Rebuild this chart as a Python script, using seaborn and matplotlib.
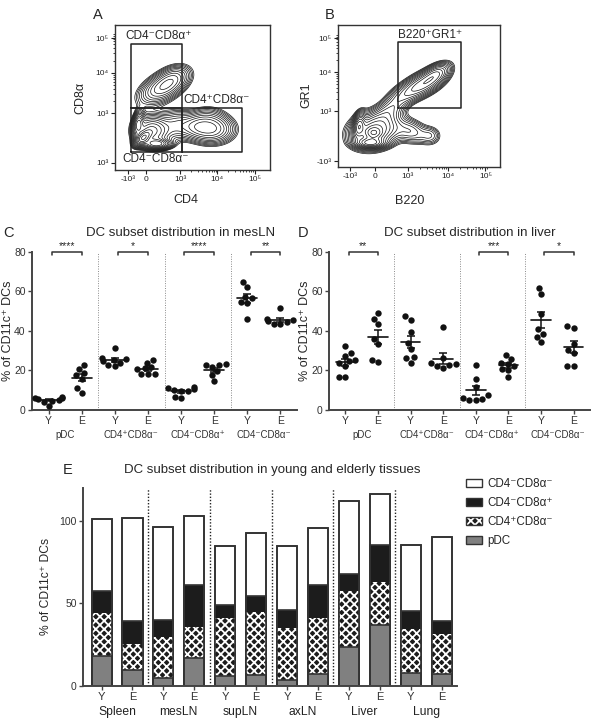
import numpy as np
import pandas as pd
import matplotlib
matplotlib.use("Agg")
import matplotlib.pyplot as plt
from matplotlib.patches import Patch
import seaborn as sns

# ── A / B: flow populations (axis-fraction units) ───────────────────────────
# centre x, centre y, spread x, spread y, tilt (corr), weight
a_cx = [0.31, 0.38, 0.24, 0.15, 0.18, 0.27, 0.40, 0.625, 0.52, 0.60]
a_cy = [0.57, 0.64, 0.27, 0.32, 0.22, 0.18, 0.31, 0.28, 0.30, 0.36]
a_sx = [0.085, 0.06, 0.065, 0.02, 0.03, 0.05, 0.06, 0.08, 0.06, 0.07]
a_sy = [0.065, 0.05, 0.06, 0.05, 0.03, 0.02, 0.06, 0.055, 0.05, 0.05]
a_rho = [0.5, 0.3, 0.0, 0.3, 0.5, 0.0, 0.0, 0.0, 0.0, 0.0]
a_w = [1.3, 0.3, 1.5, 0.3, 0.45, 0.45, 0.45, 1.2, 0.45, 0.25]

b_cx = [0.23, 0.22, 0.13, 0.20, 0.45, 0.57, 0.32, 0.52, 0.61, 0.40]
b_cy = [0.26, 0.24, 0.29, 0.17, 0.25, 0.22, 0.40, 0.58, 0.66, 0.50]
b_sx = [0.085, 0.03, 0.02, 0.05, 0.06, 0.04, 0.06, 0.08, 0.05, 0.06]
b_sy = [0.07, 0.025, 0.05, 0.02, 0.05, 0.04, 0.06, 0.06, 0.045, 0.05]
b_rho = [0.2, 0.0, 0.3, 0.0, -0.2, 0.0, 0.5, 0.6, 0.5, 0.4]
b_w = [2.2, 0.2, 0.3, 0.4, 0.3, 0.1, 0.35, 1.0, 0.3, 0.2]

# gates: (x0, y0, x1, y1) in axis fractions
a_gates = [(0.10, 0.428, 0.434, 0.869),
           (0.10, 0.126, 0.434, 0.428),
           (0.434, 0.126, 0.817, 0.428)]
a_gate_labels = [(0.065, 0.925, "CD4⁻CD8α⁺"),
                 (0.44, 0.483, "CD4⁺CD8α⁻"),
                 (0.05, 0.076, "CD4⁻CD8α⁻")]
b_gates = [(0.37, 0.415, 0.76, 0.88)]
b_gate_labels = [(0.37, 0.93, "B220⁺GR1⁺")]

flow_xtick_labels = ["-10³", "0", "10³", "10⁴", "10⁵"]
a_xticks = [0.085, 0.20, 0.42, 0.66, 0.90]
a_yticks = [0.05, 0.39, 0.67, 0.91]
a_ytick_labels = ["10³", "10³", "10⁴", "10⁵"]
b_xticks = [0.074, 0.23, 0.43, 0.68, 0.91]
b_yticks = [0.042, 0.394, 0.669, 0.908]
b_ytick_labels = ["-10³", "10³", "10⁴", "10⁵"]

# ── C / D: % of CD11c+ DCs per mouse ─────────────────────────────────────────
subset_labels = ["pDC", "CD4⁺CD8α⁻", "CD4⁻CD8α⁺", "CD4⁻CD8α⁻"]
ages = ["Y", "E"]

mesln_pdc_y = [6.3, 5.6, 6.0, 5.1, 4.8, 4.2, 2.0, 6.5]
mesln_pdc_e = [22.5, 20.5, 18.5, 17.5, 15.5, 11.0, 8.8]
mesln_cd4_y = [31.5, 26.5, 25.8, 25.2, 24.8, 24.0, 22.5, 22.0]
mesln_cd4_e = [25.3, 24.0, 21.5, 20.5, 18.2, 18.2, 18.2, 21.0]
mesln_cd8_y = [11.5, 11.0, 10.5, 10.0, 9.8, 9.5, 6.8, 6.0]
mesln_cd8_e = [23.3, 22.5, 22.8, 21.5, 19.5, 17.5, 14.5]
mesln_dn_y = [64.8, 62.3, 57.0, 56.5, 54.5, 54.0, 45.8]
mesln_dn_e = [51.5, 46.0, 45.5, 45.0, 44.5, 43.5, 43.3]
mesln_stars = ["****", "*", "****", "**"]

liver_pdc_y = [32.3, 28.7, 27.5, 25.5, 24.8, 23.5, 22.0, 16.5, 16.5]
liver_pdc_e = [49.0, 46.0, 43.5, 36.0, 33.5, 25.5, 24.5]
liver_cd4_y = [47.3, 45.5, 39.3, 34.0, 31.0, 26.8, 26.5, 24.0]
liver_cd4_e = [41.7, 26.5, 24.0, 23.0, 22.5, 22.0, 21.2]
liver_cd8_y = [22.9, 15.6, 11.5, 7.6, 6.0, 5.5, 5.0, 5.0]
liver_cd8_e = [27.8, 26.0, 24.0, 23.3, 22.0, 20.7, 20.0, 16.7]
liver_dn_y = [61.7, 58.7, 48.5, 40.7, 38.5, 37.0, 34.5]
liver_dn_e = [42.3, 41.5, 33.5, 30.5, 29.0, 22.3, 22.3]
liver_stars = ["**", "", "***", "*"]

# ── E: mean subset composition per tissue (Y, E per tissue) ─────────────────
tissues = ["Spleen", "mesLN", "supLN", "axLN", "Liver", "Lung"]
pdc_pct = [18.0, 9.5, 4.9, 16.8, 6.1, 6.5, 3.6, 6.9, 23.3, 36.6, 7.5, 6.9]
cd4_pct = [26.3, 15.6, 24.9, 19.0, 34.8, 38.4, 31.4, 34.2, 34.2, 26.2, 26.9, 24.5]
cd8_pct = [13.0, 14.0, 10.3, 25.5, 7.9, 9.8, 11.0, 20.2, 10.1, 22.4, 11.1, 7.7]
dn_pct = [43.7, 62.9, 56.3, 41.9, 36.0, 37.8, 38.8, 34.2, 44.7, 31.2, 40.1, 51.0]

W, H = 600, 727
sns.set_style("ticks")
plt.rcParams["font.family"] = ["Liberation Sans", "DejaVu Sans"]
plt.rcParams["hatch.linewidth"] = 1.3
fig = plt.figure(figsize=(W / 100, H / 100), dpi=100)
AX_COL = "#444444"


def px_axes(l, t, r, b):
    return fig.add_axes([l / W, 1 - b / H, (r - l) / W, (b - t) / H])


def fig_text(x, y, s, **kw):
    fig.text(x / W, 1 - y / H, s, **kw)


def flow_density(cx, cy, sx, sy, rho, w, n=300):
    g = np.linspace(0, 1, n)
    gx, gy = np.meshgrid(g, g)
    z = np.zeros_like(gx)
    for mx, my, vx, vy, r, wt in zip(cx, cy, sx, sy, rho, w):
        u, v = (gx - mx) / vx, (gy - my) / vy
        q = (u ** 2 - 2 * r * u * v + v ** 2) / (1 - r ** 2)
        z += wt / (vx * vy * np.sqrt(1 - r ** 2)) * np.exp(-0.5 * q)
    return gx, gy, z


def flow_panel(ax, pops, gates, gate_labels, xticks, yticks, ylabels):
    gx, gy, z = flow_density(*pops)
    levels = z.max() * np.geomspace(0.035, 0.92, 15)
    ax.contour(gx, gy, z, levels=levels, colors="#111111", linewidths=0.5)
    for x0, y0, x1, y1 in gates:
        ax.plot([x0, x1, x1, x0, x0], [y0, y0, y1, y1, y0], color="#222222", lw=1.1)
    for x, y, s in gate_labels:
        ax.text(x, y, s, fontsize=8.5, ha="left", va="center")
    ax.set_xlim(0, 1)
    ax.set_ylim(0, 1)
    ax.set_xticks(xticks, flow_xtick_labels, fontsize=6)
    ax.set_yticks(yticks, ylabels, fontsize=6)
    # log-decade minor ticks
    dx = xticks[3] - xticks[2]
    dy = yticks[2] - yticks[1]
    mx = [xticks[2] + dx * k + dx * np.log10(m) for k in range(2) for m in range(2, 10)]
    my = [yticks[1] + dy * k + dy * np.log10(m) for k in range(2) for m in range(2, 10)]
    ax.set_xticks(mx, minor=True)
    ax.set_yticks(my, minor=True)
    ax.tick_params(which="major", length=3, width=0.8, pad=1.5, colors="#222222")
    ax.tick_params(which="minor", length=1.5, width=0.6, colors="#222222")
    for sp in ax.spines.values():
        sp.set_color("#333333")
        sp.set_linewidth(1.0)


axA = px_axes(115, 25, 270, 170)
flow_panel(axA, (a_cx, a_cy, a_sx, a_sy, a_rho, a_w), a_gates, a_gate_labels,
           a_xticks, a_yticks, a_ytick_labels)
axB = px_axes(338, 25, 500, 167)
flow_panel(axB, (b_cx, b_cy, b_sx, b_sy, b_rho, b_w), b_gates, b_gate_labels,
           b_xticks, b_yticks, b_ytick_labels)

fig_text(186, 200, "CD4", fontsize=9, ha="center", va="center")
fig_text(80, 98, "CD8α", fontsize=9, ha="center", va="center", rotation=90)
fig_text(410, 201, "B220", fontsize=9, ha="center", va="center")
fig_text(306, 95, "GR1", fontsize=9, ha="center", va="center", rotation=90)


def style_axis(ax):
    sns.despine(ax=ax)
    for side in ("left", "bottom"):
        ax.spines[side].set_color(AX_COL)
        ax.spines[side].set_linewidth(1.4)
    ax.tick_params(length=3, width=1.0, color=AX_COL, labelcolor="#333333", pad=1.5)


def dot_panel(ax, groups, stars):
    rows, order = [], []
    for name, y_vals, e_vals in groups:
        for age, vals in zip(ages, (y_vals, e_vals)):
            key = f"{name} {age}"
            order.append(key)
            rows += [(key, v) for v in vals]
    df = pd.DataFrame(rows, columns=["grp", "pct"])
    sns.swarmplot(data=df, x="grp", y="pct", order=order, color="#111111",
                  size=4.6, ax=ax, zorder=3)
    for k, key in enumerate(order):
        v = df.loc[df.grp == key, "pct"].to_numpy()
        m, se = v.mean(), v.std(ddof=1) / np.sqrt(len(v))
        ax.plot([k - 0.3, k + 0.3], [m, m], color="#111111", lw=1.2, zorder=4)
        ax.errorbar(k, m, yerr=se, color="#111111", lw=1.1, capsize=3,
                    capthick=1.1, zorder=4)
    for i, s in enumerate(stars):
        if s:
            x0, x1 = 2 * i + 0.1, 2 * i + 1.0
            ax.plot([x0, x0, x1, x1], [78.3, 80, 80, 78.3], color="#333333",
                    lw=1.1, clip_on=False)
            ax.text((x0 + x1) / 2, 80.3, s, ha="center", va="bottom", fontsize=7.5)
    for xv in (1.5, 3.5, 5.5):
        ax.axvline(xv, color="#8a8a8a", ls=(0, (1, 1.5)), lw=0.7)
    ax.set_xlim(-0.5, 7.5)
    ax.set_ylim(0, 80)
    ax.set_yticks([0, 20, 40, 60, 80])
    ax.set_xticks(range(8), ages * 4, fontsize=7.5)
    ax.tick_params(axis="y", labelsize=7.5)
    for i, name in enumerate(subset_labels):
        ax.annotate(name, xy=(2 * i + 0.5, 0), xycoords=("data", "axes fraction"),
                    xytext=(0, -18), textcoords="offset points", ha="center",
                    va="center", fontsize=7, color="#333333")
    ax.set_xlabel("")
    ax.set_ylabel("% of CD11c⁺ DCs", fontsize=9, labelpad=0)
    style_axis(ax)


axC = px_axes(32, 251.7, 297, 410)
dot_panel(axC, [("pDC", mesln_pdc_y, mesln_pdc_e), ("CD4", mesln_cd4_y, mesln_cd4_e),
                ("CD8", mesln_cd8_y, mesln_cd8_e), ("DN", mesln_dn_y, mesln_dn_e)],
          mesln_stars)
axD = px_axes(329, 251.7, 590, 410)
dot_panel(axD, [("pDC", liver_pdc_y, liver_pdc_e), ("CD4", liver_cd4_y, liver_cd4_e),
                ("CD8", liver_cd8_y, liver_cd8_e), ("DN", liver_dn_y, liver_dn_e)],
          liver_stars)

# ── E: stacked bars ──────────────────────────────────────────────────────────
order_e = [f"{t} {a}" for t in tissues for a in ages]
df_e = pd.DataFrame({"bar": order_e, "pdc": pdc_pct, "cd4": cd4_pct,
                     "cd8": cd8_pct, "dn": dn_pct})
df_e["top_cd4"] = df_e.pdc + df_e.cd4
df_e["top_cd8"] = df_e.top_cd4 + df_e.cd8
df_e["total"] = df_e.top_cd8 + df_e.dn

EDGE = "#333333"
BLACK = "#1c1c1c"
GREY = "#808080"
HATCH = "xxxx"
axE = px_axes(83, 488, 457, 685.7)
kw = dict(data=df_e, x="bar", order=order_e, width=0.65, errorbar=None,
          saturation=1, ax=axE)
sns.barplot(y="total", color="white", edgecolor=EDGE, linewidth=1.2, **kw)
sns.barplot(y="top_cd8", color=BLACK, edgecolor=EDGE, linewidth=1.2, **kw)
sns.barplot(y="top_cd4", color=BLACK, edgecolor="white", linewidth=0, hatch=HATCH, **kw)
sns.barplot(y="pdc", color=GREY, edgecolor=EDGE, linewidth=1.2, **kw)
sns.barplot(y="total", fill=False, color=EDGE, linewidth=1.2, **kw)
for xv in (1.5, 3.5, 5.5, 7.5, 9.5):
    axE.axvline(xv, color="#222222", ls=(0, (1, 1.3)), lw=1.0)
axE.set_xlim(-0.6, 11.5)
axE.set_ylim(0, 120)
axE.set_yticks([0, 50, 100])
axE.set_xticks(range(12), ages * 6, fontsize=8)
axE.tick_params(axis="y", labelsize=7.5)
for i, name in enumerate(tissues):
    axE.annotate(name, xy=(2 * i + 0.5, 0), xycoords=("data", "axes fraction"),
                 xytext=(0, -19), textcoords="offset points", ha="center",
                 va="center", fontsize=8.7, color="#222222")
axE.set_xlabel("")
axE.set_ylabel("% of CD11c⁺ DCs", fontsize=8.7, labelpad=5)
style_axis(axE)

handles = [Patch(facecolor="white", edgecolor=EDGE, lw=1),
           Patch(facecolor=BLACK, edgecolor=EDGE, lw=1),
           (Patch(facecolor=BLACK, edgecolor="white", hatch=HATCH, lw=0),
            Patch(facecolor="none", edgecolor=EDGE, lw=1)),
           Patch(facecolor=GREY, edgecolor=EDGE, lw=1)]
labels = ["CD4⁻CD8α⁻", "CD4⁻CD8α⁺", "CD4⁺CD8α⁻", "pDC"]
fig.legend(handles, labels, loc="upper left", bbox_to_anchor=(466 / W, 1 - 478 / H),
           frameon=False, fontsize=8.4, handlelength=1.4, handleheight=0.65,
           handletextpad=0.4, labelspacing=0.6, borderpad=0, borderaxespad=0)

# ── titles and panel letters ────────────────────────────────────────────────
fig_text(181, 233, "DC subset distribution in mesLN", fontsize=9.5, ha="center", va="center")
fig_text(470, 233, "DC subset distribution in liver", fontsize=9.5, ha="center", va="center")
fig_text(272, 470, "DC subset distribution in young and elderly tissues",
         fontsize=9.5, ha="center", va="center")
for x, y, s in [(98, 15, "A"), (330, 15, "B"), (8, 233, "C"), (303, 233, "D"), (68, 470, "E")]:
    fig_text(x, y, s, fontsize=10.5, ha="center", va="center")

fig.savefig("out.png", dpi=100)
